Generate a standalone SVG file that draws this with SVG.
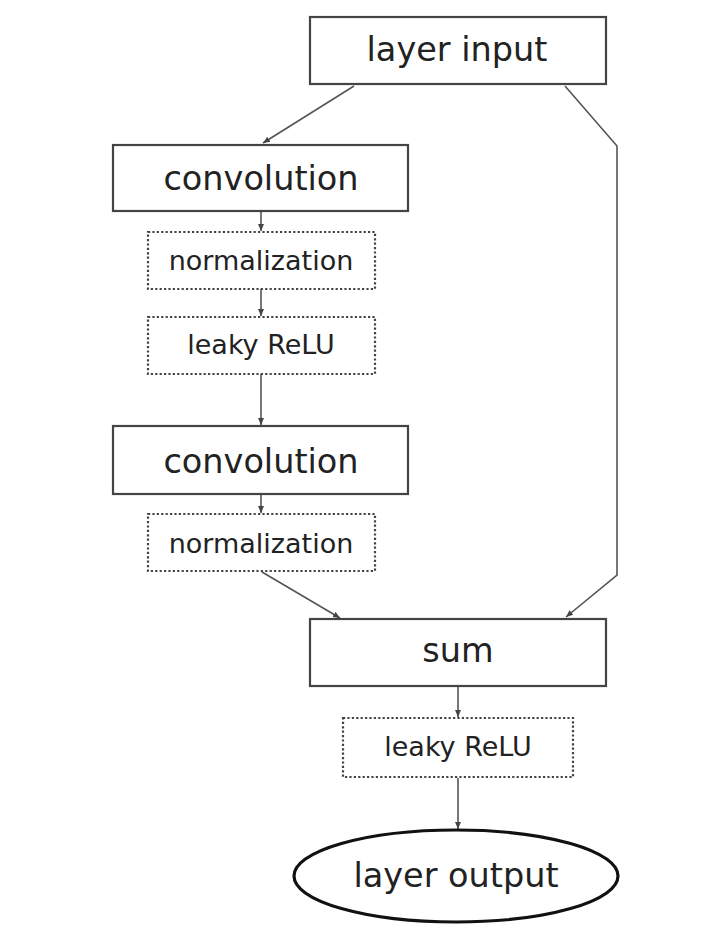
<svg xmlns="http://www.w3.org/2000/svg" width="712" height="936" viewBox="0 0 712 936">
<defs>
<style>
.box{fill:#fff;stroke:#444;stroke-width:2.2}
.dot{fill:#fff;stroke:#444;stroke-width:2.2;stroke-dasharray:2.2 2.2}
.big{font-family:"DejaVu Sans",sans-serif;font-size:33.5px;fill:#222;text-anchor:middle}
.sm{font-family:"DejaVu Sans",sans-serif;font-size:27px;fill:#222;text-anchor:middle}
.ln{fill:none;stroke:#555;stroke-width:1.6}
</style>
<marker id="ah" markerWidth="8" markerHeight="8" refX="7" refY="4" orient="auto" markerUnits="userSpaceOnUse">
<path d="M0,1 L7,4 L0,7 Z" fill="#444"/>
</marker>
</defs>
<rect width="712" height="936" fill="#fff"/>
<g id="connectors">
<line class="ln" x1="354" y1="86" x2="263" y2="143" marker-end="url(#ah)"/>
<polyline class="ln" points="565,86 617,146 617,575 566,617" marker-end="url(#ah)"/>
<line class="ln" x1="261" y1="211" x2="261" y2="231" marker-end="url(#ah)"/>
<line class="ln" x1="261" y1="289" x2="261" y2="316" marker-end="url(#ah)"/>
<line class="ln" x1="261" y1="374" x2="261" y2="425" marker-end="url(#ah)"/>
<line class="ln" x1="261" y1="494" x2="261" y2="513" marker-end="url(#ah)"/>
<line class="ln" x1="262" y1="572" x2="340" y2="618" marker-end="url(#ah)"/>
<line class="ln" x1="458" y1="686" x2="458" y2="717" marker-end="url(#ah)"/>
<line class="ln" x1="458" y1="778" x2="458" y2="829" marker-end="url(#ah)"/>
</g>
<g id="layer-input"><rect class="box" x="310" y="17" width="296" height="67"/><text class="big" x="457" y="61">layer input</text></g>
<g id="conv1"><rect class="box" x="113" y="145" width="295" height="66"/><text class="big" x="261" y="190">convolution</text></g>
<g id="norm1"><rect class="dot" x="148" y="232" width="227" height="57"/><text class="sm" x="261" y="270">normalization</text></g>
<g id="relu1"><rect class="dot" x="148" y="317" width="227" height="57"/><text class="sm" x="261" y="354">leaky ReLU</text></g>
<g id="conv2"><rect class="box" x="113" y="426" width="295" height="68"/><text class="big" x="261" y="473">convolution</text></g>
<g id="norm2"><rect class="dot" x="148" y="514" width="227" height="57"/><text class="sm" x="261" y="553">normalization</text></g>
<g id="sum"><rect class="box" x="310" y="619" width="296" height="67"/><text class="big" x="458" y="662">sum</text></g>
<g id="relu2"><rect class="dot" x="343" y="718" width="230" height="59"/><text class="sm" x="458" y="756">leaky ReLU</text></g>
<g id="layer-output"><ellipse cx="456" cy="876" rx="162" ry="46" fill="#fff" stroke="#111" stroke-width="3.2"/><text class="big" x="456" y="887">layer output</text></g>
</svg>
